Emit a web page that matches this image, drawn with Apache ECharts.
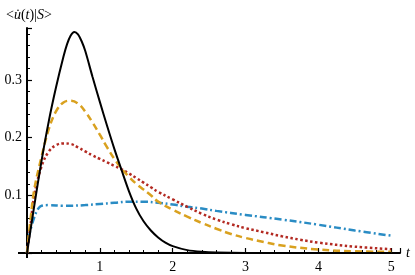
<!DOCTYPE html>
<html><head><meta charset="utf-8">
<script src="https://cdn.jsdelivr.net/npm/echarts@6/dist/echarts.min.js"></script>
<style>html,body{margin:0;padding:0;background:#fff}#c{width:415px;height:275px}</style>
</head><body><div id="c"></div>
<script>
// t values and curve values
const blackT = [0,0.1,0.2,0.3,0.4,0.5,0.55,0.6,0.65,0.7,0.75,0.8,0.9,1.0,1.1,1.2,1.3,1.4,1.5,1.6,1.7,1.8,1.9,2.0,2.2,2.4,2.6,3.0,4.0,5.0];
const blackV = [0,0.082,0.16,0.229,0.288,0.34,0.362,0.377,0.383,0.379,0.367,0.35,0.305,0.262,0.22,0.18,0.143,0.107,0.077,0.055,0.039,0.027,0.018,0.012,0.005,0.002,0.0007,0,0,0];
const orangeT = [0,0.05,0.1,0.2,0.3,0.4,0.5,0.6,0.7,0.8,0.9,1.0,1.1,1.2,1.3,1.4,1.5,1.6,1.7,1.8,2.0,2.2,2.4,2.6,2.8,3.0,3.25,3.5,4.0,4.5,5.0];
const orangeV = [0,0.06,0.11,0.167,0.215,0.246,0.261,0.264,0.259,0.245,0.226,0.205,0.183,0.163,0.146,0.132,0.12,0.11,0.10,0.089,0.075,0.063,0.052,0.042,0.033,0.026,0.019,0.013,0.006,0.003,0.002];
const redT = [0,0.05,0.1,0.2,0.3,0.4,0.5,0.6,0.7,0.8,0.9,1.0,1.1,1.2,1.3,1.4,1.5,1.6,1.7,1.8,2.0,2.2,2.4,2.6,2.8,3.0,3.25,3.5,3.75,4.0,4.5,5.0];
const redV = [0,0.05,0.1,0.15,0.176,0.187,0.19,0.189,0.183,0.176,0.169,0.163,0.157,0.151,0.145,0.138,0.130,0.122,0.114,0.106,0.093,0.080,0.068,0.058,0.050,0.043,0.036,0.029,0.023,0.018,0.011,0.0065];
const blueT = [0,0.03,0.07,0.1,0.15,0.2,0.3,0.5,0.6,0.8,1.0,1.2,1.4,1.6,1.8,2.0,2.2,2.4,2.6,3.0,3.5,4.0,4.5,5.0];
const blueV = [0,0.03,0.05,0.062,0.076,0.082,0.083,0.082,0.082,0.083,0.085,0.087,0.089,0.089,0.087,0.084,0.080,0.077,0.073,0.066,0.058,0.049,0.039,0.030];
const xTicks = [1,2,3,4,5];
const yTicks = [0.1,0.2,0.3];

const pairs = (ts, vs) => ts.map((t, i) => [t, vs[i]]);
const serif = '"Liberation Serif", "DejaVu Serif", serif';
const chart = echarts.init(document.getElementById('c'));
chart.setOption({
  animation: false,
  title: {
    left: 1, top: 3,
    text: '{n|<}{i|u\u0307}{n|(}{i|t}{n|)|}{i|S}{n|>}',
    textStyle: { fontWeight: 'normal', rich: {
      n: { fontFamily: serif, fontSize: 14, fontWeight: 'normal', color: '#000' },
      i: { fontFamily: serif, fontSize: 14, fontWeight: 'normal', fontStyle: 'italic', color: '#000' }
    } }
  },
  grid: { left: 27, right: 15, top: 28, bottom: 22, containLabel: false },
  xAxis: {
    type: 'value', min: 0, max: 5.12, interval: 1,
    name: 't', nameLocation: 'end', nameGap: 6,
    nameTextStyle: { fontFamily: serif, fontSize: 14, fontStyle: 'italic', color: '#000', verticalAlign: 'middle' },
    axisLine: { lineStyle: { color: '#000', width: 2 } },
    axisTick: { inside: true, length: 5, lineStyle: { color: '#000', width: 1.2 } },
    minorTick: { show: true, splitNumber: 5, length: 3, lineStyle: { color: '#000', width: 1 } },
    splitLine: { show: false },
    axisLabel: { fontFamily: serif, fontSize: 14, color: '#000', margin: 7,
      formatter: v => xTicks.includes(v) ? String(v) : '' }
  },
  yAxis: {
    type: 'value', min: 0, max: 0.39, interval: 0.1,
    axisLine: { show: true, lineStyle: { color: '#000', width: 2 } },
    axisTick: { show: true, inside: true, length: 5, lineStyle: { color: '#000', width: 1.2 } },
    minorTick: { show: true, splitNumber: 5, length: 3, lineStyle: { color: '#000', width: 1 } },
    splitLine: { show: false },
    axisLabel: { fontFamily: serif, fontSize: 14, color: '#000', margin: 5,
      formatter: v => { const r = Math.round(v * 10) / 10; return yTicks.includes(r) && Math.abs(v - r) < 1e-9 ? r.toFixed(1) : ''; } }
  },
  series: [
    { type: 'line', data: pairs(blueT, blueV), smooth: 0.4, symbol: 'none',
      lineStyle: { color: '#2a8cc4', width: 2.5, type: [7, 3, 2, 3] } },
    { type: 'line', data: pairs(redT, redV), smooth: 0.4, symbol: 'none',
      lineStyle: { color: '#b32a22', width: 2.5, type: [2.5, 2.5] } },
    { type: 'line', data: pairs(orangeT, orangeV), smooth: 0.4, symbol: 'none',
      lineStyle: { color: '#d9a11f', width: 2.5, type: [7, 4] } },
    { type: 'line', data: pairs(blackT, blackV), smooth: 0.3, symbol: 'none',
      lineStyle: { color: '#000', width: 2 } }
  ]
});
// small frame extensions past the origin, as in the reference
const o = chart.convertToPixel({ gridIndex: 0 }, [0, 0]);
chart.setOption({ graphic: [
  { type: 'line', shape: { x1: o[0] - 9, y1: o[1], x2: o[0], y2: o[1] }, style: { stroke: '#000', lineWidth: 2 } },
  { type: 'line', shape: { x1: o[0], y1: o[1], x2: o[0], y2: o[1] + 5 }, style: { stroke: '#000', lineWidth: 2 } }
] });
</script></body></html>
